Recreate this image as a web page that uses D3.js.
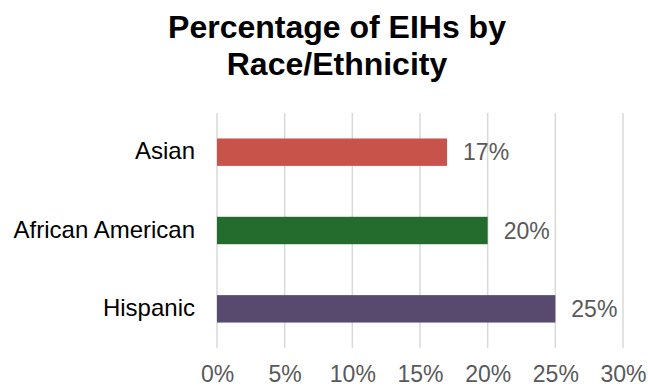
<!DOCTYPE html>
<html>
<head>
<meta charset="utf-8">
<script src="https://cdn.jsdelivr.net/npm/d3@7"></script>
<style>
  body { margin: 0; background: #fff; }
  svg text { font-family: "Liberation Sans", Arial, sans-serif; }
</style>
</head>
<body>
<svg id="chart" width="648" height="387"></svg>
<script>
// data
var categories = ["Asian", "African American", "Hispanic"];
var values = [17, 20, 25];
var barColors = ["#C8534A", "#246B2E", "#574A6E"];
var tickValues = [0, 5, 10, 15, 20, 25, 30];
var titleLines = ["Percentage of EIHs by", "Race/Ethnicity"];

var svg = d3.select("#chart");

var x = d3.scaleLinear().domain([0, 30]).range([217, 623]);
var y = d3.scaleBand().domain(categories).range([113, 348])
	.paddingInner(0.65).paddingOuter(0.325);

// title
svg.append("text")
	.attr("x", 337)
	.attr("text-anchor", "middle")
	.style("font-weight", "bold")
	.style("font-size", "32px")
	.style("fill", "#000")
	.selectAll("tspan")
	.data(titleLines)
	.enter().append("tspan")
	.attr("x", 337)
	.attr("y", function(d, i) { return 38 + i * 37; })
	.text(function(d) { return d; });

// vertical gridlines
svg.append("g")
	.selectAll("line")
	.data(tickValues)
	.enter().append("line")
	.attr("x1", function(d) { return x(d); })
	.attr("x2", function(d) { return x(d); })
	.attr("y1", 113)
	.attr("y2", 348)
	.style("stroke", "#D9D9D9")
	.style("stroke-width", 1.5);

// x axis tick labels
var xAxis = d3.axisBottom(x)
	.tickValues(tickValues)
	.tickSize(0)
	.tickPadding(0)
	.tickFormat(function(d) { return d + "%"; });

var xg = svg.append("g")
	.attr("transform", "translate(0,382)")
	.call(xAxis);
xg.select(".domain").remove();
xg.selectAll("text")
	.attr("y", 0)
	.attr("dy", 0)
	.style("font-size", "23px")
	.style("font-family", "Liberation Sans, Arial, sans-serif")
	.style("fill", "#595959");

// y axis category labels
var yAxis = d3.axisLeft(y).tickSize(0).tickPadding(22);
var yg = svg.append("g")
	.attr("transform", "translate(217,0)")
	.call(yAxis);
yg.select(".domain").remove();
yg.selectAll("text")
	.attr("dy", "0.3em")
	.style("font-size", "24px")
	.style("font-family", "Liberation Sans, Arial, sans-serif")
	.style("fill", "#000");

// bars
svg.append("g")
	.selectAll("rect")
	.data(values)
	.enter().append("rect")
	.attr("x", x(0))
	.attr("y", function(d, i) { return y(categories[i]); })
	.attr("width", function(d) { return x(d) - x(0); })
	.attr("height", y.bandwidth())
	.style("fill", function(d, i) { return barColors[i]; });

// value labels
svg.append("g")
	.selectAll("text")
	.data(values)
	.enter().append("text")
	.attr("x", function(d) { return x(d) + 16; })
	.attr("y", function(d, i) { return y(categories[i]) + y.bandwidth() / 2; })
	.attr("dy", "0.35em")
	.style("font-size", "23px")
	.style("fill", "#595959")
	.text(function(d) { return d + "%"; });
</script>
</body>
</html>
